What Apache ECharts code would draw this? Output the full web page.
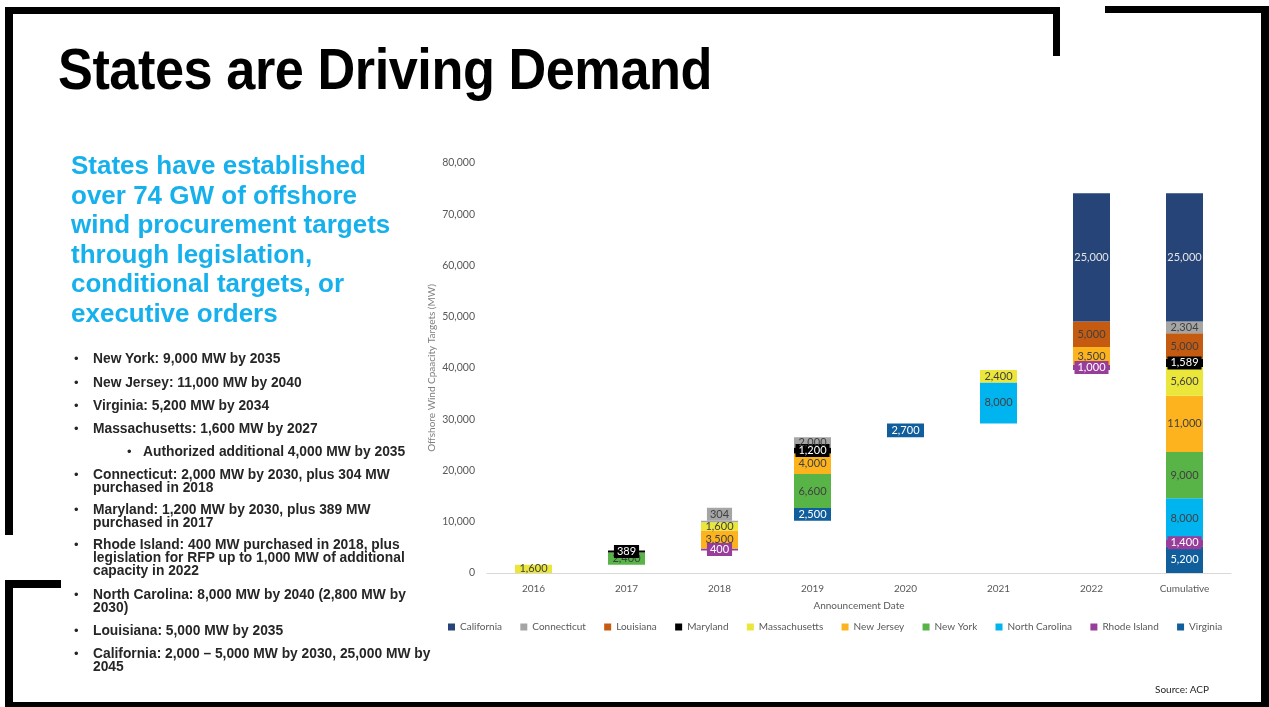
<!DOCTYPE html>
<html>
<head>
<meta charset="utf-8">
<script src="https://cdn.jsdelivr.net/npm/echarts/dist/echarts.min.js"></script>
<style>
  html, body { margin: 0; padding: 0; background: #fff; }
  #page { position: relative; width: 1269px; height: 707px; overflow: hidden; background: #fff; }
  .bar { position: absolute; background: #000; }
  #chart { position: absolute; left: 0; top: 0; width: 1269px; height: 707px; }
  #title { position: absolute; left: 58px; top: 38px; font-family: "Liberation Sans", Arial, sans-serif; font-weight: bold; font-size: 57px; line-height: 62px; color: #000; white-space: nowrap; transform-origin: 0 0; letter-spacing: -0.5px; }
  #sub { position: absolute; left: 71px; top: 151px; font-family: "Liberation Sans", Arial, sans-serif; font-weight: bold; font-size: 26px; line-height: 29.5px; color: #16B1EC; white-space: nowrap; }
  .item { position: absolute; font-family: "Liberation Sans", Arial, sans-serif; font-weight: bold; font-size: 13.8px; line-height: 13px; color: #262626; white-space: nowrap; }
  .dot { position: absolute; font-family: "Liberation Sans", Arial, sans-serif; font-size: 13px; line-height: 13px; color: #262626; }
  #source { position: absolute; left: 1155px; top: 683px; font-family: Lato, sans-serif; font-size: 10px; color: #262626; }
</style>
</head>
<body>
<div id="page">
  <div id="chart"></div>
  <!-- slide frame -->
  <div class="bar" style="left:5px;top:7px;width:1055px;height:7px;"></div>
  <div class="bar" style="left:1053px;top:7px;width:7px;height:49px;"></div>
  <div class="bar" style="left:5px;top:7px;width:8px;height:528px;"></div>
  <div class="bar" style="left:1105px;top:6px;width:164px;height:7px;"></div>
  <div class="bar" style="left:1261px;top:6px;width:8px;height:701px;"></div>
  <div class="bar" style="left:5px;top:580px;width:56px;height:8px;"></div>
  <div class="bar" style="left:5px;top:580px;width:8px;height:127px;"></div>
  <div class="bar" style="left:5px;top:702px;width:1264px;height:5px;"></div>

  <div id="title">States are Driving Demand</div>
  <div id="sub">States have established<br>over 74 GW of offshore<br>wind procurement targets<br>through legislation,<br>conditional targets, or<br>executive orders</div>
  <div id="bullets"></div>
  <div id="source">Source: ACP</div>
</div>
<script>
// ---------- data ----------
const categories = ['2016', '2017', '2018', '2019', '2020', '2021', '2022', 'Cumulative'];
const legendOrder = ['California', 'Connecticut', 'Louisiana', 'Maryland', 'Massachusetts', 'New Jersey', 'New York', 'North Carolina', 'Rhode Island', 'Virginia'];
const stackOrder = ['Virginia', 'Rhode Island', 'North Carolina', 'New York', 'New Jersey', 'Massachusetts', 'Maryland', 'Louisiana', 'Connecticut', 'California'];

const virginia      = [null, null, null, 2500, 2700, null, null, 5200];
const rhodeIsland   = [null, null, 400, null, null, null, 1000, 1400];
const northCarolina = [null, null, null, null, null, 8000, null, 8000];
const newYork       = [null, 2400, null, 6600, null, null, null, 9000];
const newJersey     = [null, null, 3500, 4000, null, null, 3500, 11000];
const massachusetts = [1600, null, 1600, null, null, 2400, null, 5600];
const maryland      = [null, 389, null, 1200, null, null, null, 1589];
const louisiana     = [null, null, null, null, null, null, 5000, 5000];
const connecticut   = [null, null, 304, 2000, null, null, null, 2304];
const california    = [null, null, null, null, null, null, 25000, 25000];

const yMin = 0, yMax = 80000, yStep = 10000;

const bulletItems = [
  'New York: 9,000 MW by 2035',
  'New Jersey: 11,000 MW by 2040',
  'Virginia: 5,200 MW by 2034',
  'Massachusetts: 1,600 MW by 2027',
  'Authorized additional 4,000 MW by 2035',
  'Connecticut: 2,000 MW by 2030, plus 304 MW|purchased in 2018',
  'Maryland: 1,200 MW by 2030, plus 389 MW|purchased in 2017',
  'Rhode Island: 400 MW purchased in 2018, plus|legislation for RFP up to 1,000 MW of additional|capacity in 2022',
  'North Carolina: 8,000 MW by 2040 (2,800 MW by|2030)',
  'Louisiana: 5,000 MW by 2035',
  'California: 2,000 \u2013 5,000 MW by 2030, 25,000 MW by|2045'
];

// ---------- style ----------
const seriesValues = {
  'Virginia': virginia, 'Rhode Island': rhodeIsland, 'North Carolina': northCarolina,
  'New York': newYork, 'New Jersey': newJersey, 'Massachusetts': massachusetts,
  'Maryland': maryland, 'Louisiana': louisiana, 'Connecticut': connecticut, 'California': california
};
const colors = {
  'California': '#264478', 'Connecticut': '#A5A5A5', 'Louisiana': '#C55A11', 'Maryland': '#000000',
  'Massachusetts': '#EAE63A', 'New Jersey': '#FDB31D', 'New York': '#58B447', 'North Carolina': '#00B4F0',
  'Rhode Island': '#993D9B', 'Virginia': '#115E9C'
};
const labelColors = {
  'California': '#E6E6E6', 'Virginia': '#FFFFFF', 'Maryland': '#FFFFFF', 'Rhode Island': '#FFFFFF'
};
const callouts = { 'Maryland': [1, 3, 7], 'Connecticut': [2], 'Rhode Island': [2, 6, 7] };
const aboveLabels = { 'Connecticut': [2] };

// bullets
const bWrap = document.getElementById('bullets');
const bulletTops = [358, 382, 405, 428, 451, 474, 509, 544, 594, 630, 653];
bulletItems.forEach((t, i) => {
  const sub = i === 4;
  const cy = bulletTops[i];
  const d = document.createElement('div');
  d.className = 'item';
  d.style.left = (sub ? 143 : 93) + 'px';
  d.style.top = (cy - 6.5) + 'px';
  d.innerHTML = t.split('|').join('<br>');
  bWrap.appendChild(d);
  const b = document.createElement('div');
  b.className = 'dot';
  b.textContent = '\u2022';
  b.style.left = (sub ? 127 : 74) + 'px';
  b.style.top = (cy - 6.5) + 'px';
  bWrap.appendChild(b);
});

// title fit
const title = document.getElementById('title');
const tw = title.getBoundingClientRect().width;
title.style.transform = 'scaleX(' + (654 / tw) + ')';

// waterfall base from yearly totals
const totals = categories.map((c, i) => stackOrder.reduce((s, k) => s + (seriesValues[k][i] || 0), 0));
const base = [];
for (let i = 0; i < categories.length; i++) {
  if (categories[i] === 'Cumulative') base.push(0);
  else base.push(i === 0 ? 0 : base[i - 1] + totals[i - 1]);
}

const fmt = v => (v == null ? '' : Number(v).toLocaleString('en-US'));

const series = [{
  name: '_base', type: 'bar', stack: 'w', data: base, silent: true,
  itemStyle: { color: 'transparent' }, label: { show: false }, barWidth: 37
}];
stackOrder.forEach(name => {
  const vals = seriesValues[name];
  const co = callouts[name] || [];
  const ab = aboveLabels[name] || [];
  series.push({
    name, type: 'bar', stack: 'w', barWidth: 37,
    itemStyle: { color: colors[name] },
    label: {
      show: true, position: 'inside', fontFamily: 'Lato', fontSize: 11,
      color: labelColors[name] || '#404040',
      formatter: p => fmt(p.value)
    },
    data: vals.map((v, i) => {
      if (v == null) return '-';
      if (co.indexOf(i) >= 0) {
        const lab = { backgroundColor: colors[name], padding: [1, 3] };
        if (ab.indexOf(i) >= 0) { lab.position = 'top'; lab.distance = 0; }
        return { value: v, label: lab };
      }
      return v;
    })
  });
});

const chart = echarts.init(document.getElementById('chart'), null, { renderer: 'canvas' });
chart.setOption({
  animation: false,
  backgroundColor: 'transparent',
  grid: { left: 487, right: 38, top: 163, bottom: 134, containLabel: false },
  legend: {
    data: legendOrder, left: 443, top: 617, icon: 'rect', itemWidth: 7, itemHeight: 7, itemGap: 18.3,
    textStyle: { fontFamily: 'Lato', fontSize: 10, color: '#595959' }, selectedMode: false
  },
  xAxis: {
    type: 'category', data: categories,
    axisLine: { lineStyle: { color: '#D9D9D9' } }, axisTick: { show: false },
    axisLabel: { color: '#595959', fontFamily: 'Lato', fontSize: 10, margin: 11 },
    name: 'Announcement Date', nameLocation: 'middle', nameGap: 28, nameMoveOverlap: false,
    nameTextStyle: { color: '#595959', fontFamily: 'Lato', fontSize: 10 }
  },
  yAxis: {
    type: 'value', min: yMin, max: yMax, interval: yStep,
    axisLine: { show: false }, axisTick: { show: false }, splitLine: { show: false },
    axisLabel: { color: '#595959', fontFamily: 'Lato', fontSize: 10.5, margin: 12, formatter: v => fmt(v) },
    name: 'Offshore Wind Cpaacity Targets (MW)', nameLocation: 'middle', nameGap: 50, nameMoveOverlap: false,
    nameTextStyle: { color: '#7F7F7F', fontFamily: 'Lato', fontSize: 10 }
  },
  series
});
</script>
</body>
</html>
